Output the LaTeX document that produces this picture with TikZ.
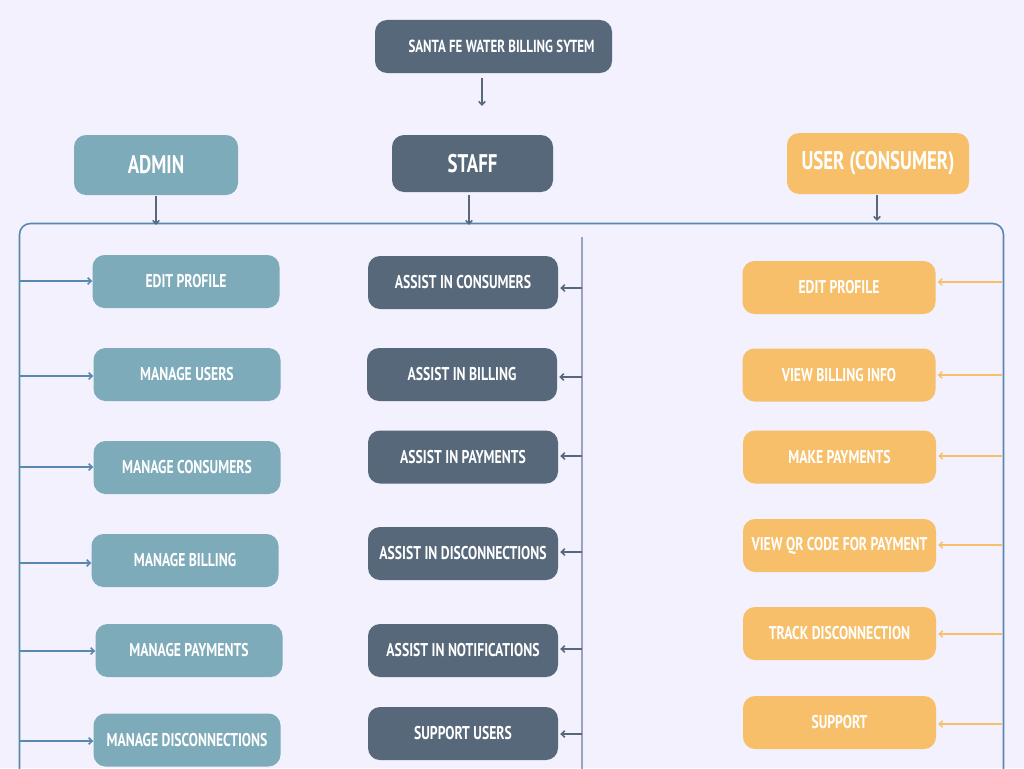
\documentclass[tikz,border=0pt]{standalone}
\usepackage{fontspec}
\setmainfont{PT Sans}[FakeStretch=0.74]
\usetikzlibrary{arrows.meta}
\definecolor{bg}{HTML}{F2F1FD}
\definecolor{slate}{HTML}{56687A}
\definecolor{teal}{HTML}{7EABBA}
\definecolor{amber}{HTML}{F7BF69}
\definecolor{steel}{HTML}{5A88B0}
\definecolor{divider}{HTML}{9AA3C0}
\tikzset{
  box/.style={rounded corners=12pt, text=white, font=\bfseries\fontsize{18.5}{18.5}\selectfont, inner sep=0pt, align=center},
  adminbox/.style={box, fill=teal, minimum width=187pt, minimum height=53pt},
  staffbox/.style={box, fill=slate, minimum width=190pt, minimum height=53pt},
  userbox/.style={box, fill=amber, minimum width=193pt, minimum height=53pt},
  headbox/.style={box, font=\bfseries\fontsize{25.5}{25.5}\selectfont},
  tip/.style={-{Straight Barb[length=3.5pt,width=6.5pt]}},
  adminarrow/.style={tip, draw=steel, line width=1.5pt},
  staffarrow/.style={tip, draw=slate, line width=1.5pt},
  userarrow/.style={tip, draw=amber, line width=1.3pt},
  downarrow/.style={tip, draw=slate, line width=1.5pt},
}
\begin{document}
\begin{tikzpicture}[x=1pt,y=-1pt]
\useasboundingbox (0,0) rectangle (1024,768);
\fill[bg] (0,0) rectangle (1024,768);

% title
\node[box, fill=slate, minimum width=237pt, minimum height=53pt, font=\bfseries\fontsize{17.5}{17.5}\selectfont] (title) at (493.5,46.5) {\hspace*{16pt}SANTA FE WATER BILLING SYTEM};
\coordinate (titleend) at (482,106);
\draw[downarrow] (482,78) -- (titleend);

% headers
\node[headbox, fill=teal, minimum width=164pt, minimum height=60pt] (admin) at (156,165) {ADMIN};
\node[headbox, fill=slate, minimum width=161pt, minimum height=57pt] (staff) at (472.5,163.5) {STAFF};
\node[headbox, fill=amber, minimum width=182pt, minimum height=61pt] (user) at (878,163.5) {USER (CONSUMER)};

% container
\draw[steel, line width=1.6pt, rounded corners=11pt] (19.5,775) -- (19.5,223.5) -- (1003.5,223.5) -- (1003.5,775);
\draw[divider, line width=1.6pt] (582,237) -- (582,775);

\coordinate (ta) at (156,225);
\coordinate (ts) at (469,225);
\coordinate (tu) at (877,221);
\draw[downarrow] (156,196) -- (ta);
\draw[downarrow] (469,195) -- (ts);
\draw[downarrow] (877,195) -- (tu);

% admin column
\node[adminbox] (a1) at (186,281.5) {EDIT PROFILE};
\node[adminbox] (a2) at (187,374.5) {MANAGE USERS};
\node[adminbox] (a3) at (187,467.5) {MANAGE CONSUMERS};
\node[adminbox] (a4) at (185,560.5) {MANAGE BILLING};
\node[adminbox] (a5) at (189,650.5) {MANAGE PAYMENTS};
\node[adminbox] (a6) at (187,740) {MANAGE DISCONNECTIONS};

\foreach \n/\y in {a1/281,a2/376,a3/467,a4/563,a5/651,a6/741}{
  \coordinate (\n s) at (20,\y);
  \draw[adminarrow] (\n s) -- (\n.west |- \n s);
}

% staff column
\node[staffbox] (s1) at (463,282.5) {ASSIST IN CONSUMERS};
\node[staffbox] (s2) at (462,374.5) {ASSIST IN BILLING};
\node[staffbox] (s3) at (463,457) {ASSIST IN PAYMENTS};
\node[staffbox] (s4) at (463,553.5) {ASSIST IN DISCONNECTIONS};
\node[staffbox] (s5) at (463,650.5) {ASSIST IN NOTIFICATIONS};
\node[staffbox] (s6) at (463,733.5) {SUPPORT USERS};

\foreach \n/\y in {s1/288,s2/377,s3/456,s4/552,s5/649,s6/734}{
  \coordinate (\n s) at (582,\y);
  \draw[staffarrow] (\n s) -- ([xshift=2pt]\n.east |- \n s);
}

% user column
\node[userbox] (u1) at (839,287.5) {EDIT PROFILE};
\node[userbox] (u2) at (839,375) {VIEW BILLING INFO};
\node[userbox] (u3) at (839.5,457) {MAKE PAYMENTS};
\node[userbox] (u4) at (839.5,545.5) {VIEW QR CODE FOR PAYMENT};
\node[userbox] (u5) at (839.5,633.5) {TRACK DISCONNECTION};
\node[userbox] (u6) at (839.5,722.5) {SUPPORT};

\foreach \n/\y in {u1/282,u2/375,u3/456,u4/545,u5/634,u6/724}{
  \coordinate (\n s) at (1002,\y);
  \draw[userarrow] (\n s) -- ([xshift=2pt]\n.east |- \n s);
}
\end{tikzpicture}
\end{document}
